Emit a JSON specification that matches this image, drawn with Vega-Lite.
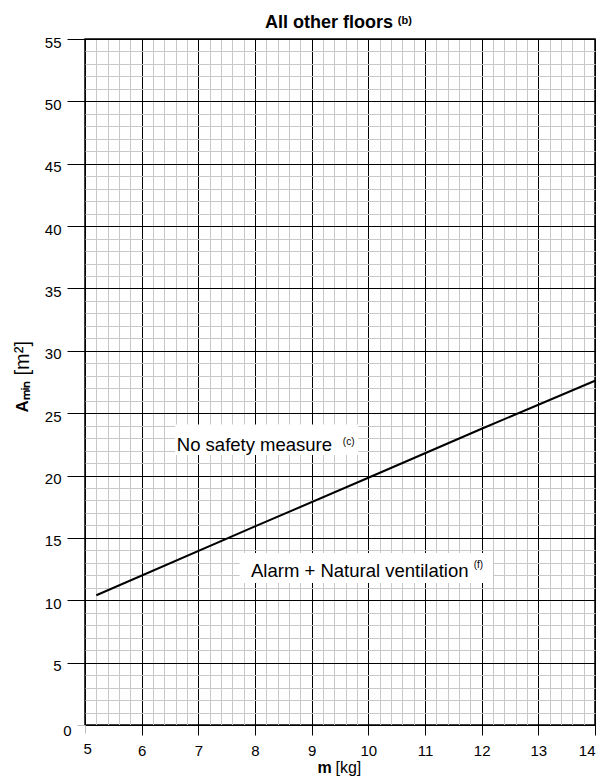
{
  "$schema": "https://vega.github.io/schema/vega-lite/v6.json",
  "width": 510,
  "height": 686,
  "autosize": {"type": "none"},
  "padding": {"left": 85, "top": 39, "right": 5, "bottom": 54},
  "background": "white",
  "title": {"text": "All other floors", "font": "Liberation Sans", "fontSize": 18, "fontWeight": "bold", "color": "black", "anchor": "middle", "baseline": "alphabetic", "offset": -31, "dx": -11},
  "config": {"view": {"stroke": "black", "strokeWidth": 1.5}},
  "datasets": {
    "curve": [
      {"m": 5.2, "a": 10.4},
      {"m": 8, "a": 15.92},
      {"m": 10, "a": 19.82},
      {"m": 12, "a": 23.75},
      {"m": 14, "a": 27.6}
    ],
    "boxes": [
      {"x1": 6.59, "x2": 9.82, "y1": 21.65, "y2": 24.1},
      {"x1": 7.73, "x2": 12.2, "y1": 11.39, "y2": 13.79}
    ],
    "labels": [
      {"x": 6.62, "y": 22.0, "text": "No safety measure"},
      {"x": 7.93, "y": 11.87, "text": "Alarm + Natural ventilation"}
    ],
    "sups": [
      {"x": 9.55, "y": 22.45, "text": "(c)"},
      {"x": 11.86, "y": 12.59, "text": "(f)"}
    ],
    "titlesup": [
      {"x": 10.52, "y": 56.2, "text": "(b)"}
    ]
  },
  "layer": [
    {
      "data": {"name": "curve"},
      "mark": {"type": "line", "color": "black", "strokeWidth": 2},
      "encoding": {
        "x": {
          "field": "m", "type": "quantitative",
          "scale": {"domain": [5, 14], "nice": false, "zero": false},
          "axis": {
            "orient": "top",
            "values": [5.2,5.4,5.6,5.8,6.2,6.4,6.6,6.8,7.2,7.4,7.6,7.8,8.2,8.4,8.6,8.8,9.2,9.4,9.6,9.8,10.2,10.4,10.6,10.8,11.2,11.4,11.6,11.8,12.2,12.4,12.6,12.8,13.2,13.4,13.6,13.8],
            "grid": true, "gridColor": "#c8c8c8", "gridWidth": 1,
            "labels": false, "ticks": false, "domain": false,
            "title": "[kg]", "titleFont": "Liberation Sans", "titleFontSize": 16, "titleFontWeight": "normal", "titleColor": "black",
            "titleX": 250, "titleY": 733, "titleAlign": "left", "titleBaseline": "alphabetic"
          }
        },
        "y": {
          "field": "a", "type": "quantitative",
          "scale": {"domain": [0, 55], "nice": false, "zero": false},
          "axis": {
            "orient": "right",
            "values": [1,2,3,4,6,7,8,9,11,12,13,14,16,17,18,19,21,22,23,24,26,27,28,29,31,32,33,34,36,37,38,39,41,42,43,44,46,47,48,49,51,52,53,54],
            "grid": true, "gridColor": "#c8c8c8", "gridWidth": 1,
            "labels": false, "ticks": false, "domain": false,
            "title": "[m²]", "titleFont": "Liberation Sans", "titleFontSize": 20, "titleFontWeight": "normal", "titleColor": "black",
            "titleAngle": 270, "titleX": -567, "titleY": 336, "titleAlign": "left", "titleBaseline": "alphabetic"
          }
        }
      }
    },
    {
      "data": {"name": "boxes"},
      "mark": {"type": "rect", "fill": "white"},
      "encoding": {
        "x": {
          "field": "x1", "type": "quantitative",
          "scale": {"domain": [5, 14], "nice": false, "zero": false},
          "axis": {
            "orient": "bottom",
            "values": [5,6,7,8,9,10,11,12,13,14],
            "grid": true, "gridColor": "black", "gridWidth": 1,
            "domain": false,
            "ticks": true, "tickColor": {"condition": {"test": "datum.value === 5", "value": "#bbbbbb"}, "value": "black"},
            "tickSize": {"condition": {"test": "datum.value === 5", "value": 8}, "value": 10},
            "tickWidth": 1,
            "labelFont": "Liberation Sans", "labelFontSize": 15, "labelColor": "black", "labelPadding": 8,
            "labelOffset": {"condition": {"test": "datum.value === 5", "value": -2}, "value": 0},
            "title": "m", "titleFont": "Liberation Sans", "titleFontSize": 16, "titleFontWeight": "bold", "titleColor": "black",
            "titleX": 232, "titleY": 47, "titleAlign": "left", "titleBaseline": "alphabetic"
          }
        },
        "x2": {"field": "x2"},
        "y": {
          "field": "y1", "type": "quantitative",
          "scale": {"domain": [0, 55], "nice": false, "zero": false},
          "axis": {
            "orient": "left",
            "values": [0,5,10,15,20,25,30,35,40,45,50,55],
            "grid": true, "gridColor": "black", "gridWidth": 1,
            "domain": false,
            "ticks": true, "tickColor": {"condition": {"test": "datum.value === 0", "value": "#bbbbbb"}, "value": "black"},
            "tickSize": {"condition": {"test": "datum.value === 0", "value": 8}, "value": 18},
            "tickWidth": 1,
            "labelFont": "Liberation Sans", "labelFontSize": 15, "labelColor": "black", "labelPadding": 6,
            "labelOffset": {"condition": {"test": "datum.value === 0", "value": 5}, "value": 3},
            "title": "Aₘᵢₙ", "titleFont": "Liberation Sans", "titleFontSize": 17, "titleFontWeight": "bold", "titleColor": "black",
            "titleAngle": 270, "titleX": -58, "titleY": 373, "titleAlign": "left", "titleBaseline": "alphabetic"
          }
        },
        "y2": {"field": "y2"}
      }
    },
    {
      "data": {"name": "labels"},
      "mark": {"type": "text", "align": "left", "baseline": "alphabetic", "font": "Liberation Sans", "fontSize": 18.5, "color": "black"},
      "encoding": {
        "x": {"field": "x", "type": "quantitative", "axis": null},
        "y": {"field": "y", "type": "quantitative", "axis": null},
        "text": {"field": "text"}
      }
    },
    {
      "data": {"name": "sups"},
      "mark": {"type": "text", "align": "left", "baseline": "alphabetic", "font": "Liberation Sans", "fontSize": 10, "color": "black"},
      "encoding": {
        "x": {"field": "x", "type": "quantitative", "axis": null},
        "y": {"field": "y", "type": "quantitative", "axis": null},
        "text": {"field": "text"}
      }
    },
    {
      "data": {"name": "titlesup"},
      "mark": {"type": "text", "align": "left", "baseline": "alphabetic", "font": "Liberation Sans", "fontSize": 11, "fontWeight": "bold", "color": "black"},
      "encoding": {
        "x": {"field": "x", "type": "quantitative", "axis": null},
        "y": {"field": "y", "type": "quantitative", "axis": null},
        "text": {"field": "text"}
      }
    }
  ],
  "resolve": {"axis": {"x": "independent", "y": "independent"}}
}
